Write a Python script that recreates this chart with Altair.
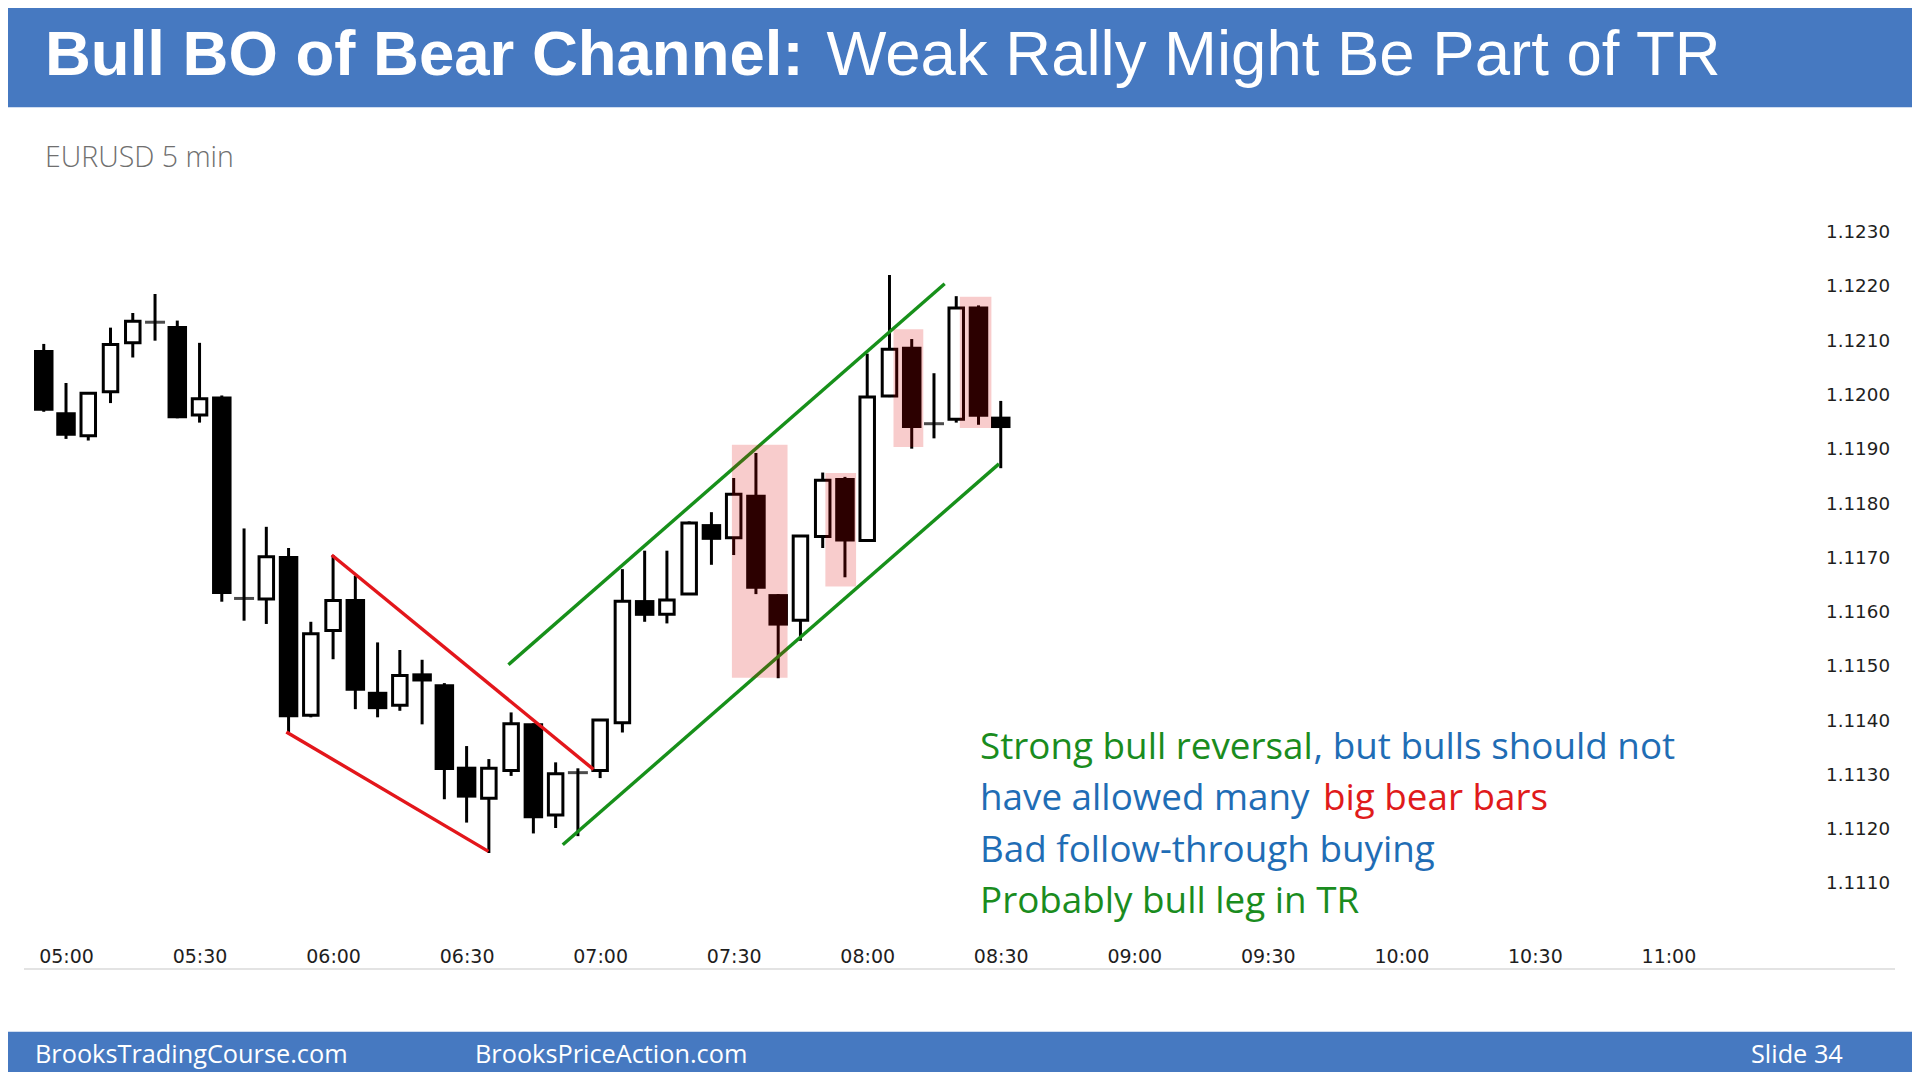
import altair as alt
import pandas as pd

# ---------------- data ----------------
TIMES = ["04:55", "05:00", "05:05", "05:10", "05:15", "05:20", "05:25", "05:30", "05:35", "05:40",
         "05:45", "05:50", "05:55", "06:00", "06:05", "06:10", "06:15", "06:20", "06:25", "06:30",
         "06:35", "06:40", "06:45", "06:50", "06:55", "07:00", "07:05", "07:10", "07:15", "07:20",
         "07:25", "07:30", "07:35", "07:40", "07:45", "07:50", "07:55", "08:00", "08:05", "08:10",
         "08:15", "08:20", "08:25", "08:30"]
OPEN = [1.12084, 1.11969, 1.11926, 1.12007, 1.12097, 1.12135, 1.12128, 1.11964, 1.11998, 1.11626,
        1.11625, 1.11704, 1.11411, 1.11567, 1.11625, 1.11454, 1.11429, 1.11488, 1.11468, 1.11316,
        1.11258, 1.11309, 1.11396, 1.11227, 1.11305, 1.11309, 1.11397, 1.11623, 1.11597, 1.11634,
        1.11763, 1.11738, 1.11817, 1.11634, 1.11586, 1.11740, 1.11848, 1.11733, 1.11999, 1.12090,
        1.11948, 1.11956, 1.12164, 1.11961]
HIGH = [1.12095, 1.12023, 1.12004, 1.12125, 1.12152, 1.12187, 1.12138, 1.12097, 1.12000, 1.11755,
        1.11758, 1.11719, 1.11583, 1.11706, 1.11668, 1.11545, 1.11531, 1.11513, 1.11470, 1.11354,
        1.11330, 1.11416, 1.11396, 1.11324, 1.11313, 1.11402, 1.11680, 1.11714, 1.11714, 1.11768,
        1.11785, 1.11848, 1.11894, 1.11634, 1.11741, 1.11858, 1.11850, 1.12077, 1.12222, 1.12104,
        1.12041, 1.12183, 1.12166, 1.11990]
LOW = [1.11970, 1.11920, 1.11917, 1.11986, 1.12070, 1.12101, 1.11958, 1.11950, 1.11620, 1.11585,
       1.11579, 1.11380, 1.11407, 1.11514, 1.11422, 1.11407, 1.11419, 1.11394, 1.11256, 1.11213,
       1.11157, 1.11299, 1.11193, 1.11203, 1.11188, 1.11295, 1.11379, 1.11583, 1.11580, 1.11634,
       1.11688, 1.11706, 1.11634, 1.11479, 1.11548, 1.11719, 1.11665, 1.11733, 1.11997, 1.11902,
       1.11921, 1.11950, 1.11946, 1.11866]
CLOSE = [1.11972, 1.11926, 1.12004, 1.12094, 1.12137, 1.12135, 1.11958, 1.11994, 1.11634, 1.11626,
         1.11703, 1.11407, 1.11561, 1.11622, 1.11456, 1.11422, 1.11484, 1.11473, 1.11310, 1.11259,
         1.11313, 1.11395, 1.11221, 1.11303, 1.11305, 1.11402, 1.11621, 1.11594, 1.11623, 1.11765,
         1.11734, 1.11818, 1.11644, 1.11576, 1.11741, 1.11844, 1.11731, 1.11997, 1.12085, 1.11940,
         1.11948, 1.12161, 1.11961, 1.11940]

# highlighted (pink) zones: start time, end time (minutes of day), top, bottom price
ZONE_T1 = [449.6, 470.6, 485.9, 500.8]
ZONE_T2 = [462.1, 477.5, 492.6, 507.9]
ZONE_P1 = [1.11909, 1.11857, 1.12122, 1.12182]
ZONE_P2 = [1.11480, 1.11648, 1.11905, 1.11940]

# trend lines: (t1, p1) -> (t2, p2)
LINE_T1 = [359.7, 349.5, 399.4, 411.6]
LINE_P1 = [1.11706, 1.11380, 1.11504, 1.11172]
LINE_T2 = [418.5, 394.9, 497.4, 509.6]
LINE_P2 = [1.11311, 1.11160, 1.12206, 1.11874]
LINE_COLOR = ["#e3161b", "#e3161b", "#17901a", "#17901a"]

X_TICKS = ["05:00", "05:30", "06:00", "06:30", "07:00", "07:30", "08:00", "08:30",
           "09:00", "09:30", "10:00", "10:30", "11:00"]
Y_TICKS = [1.1110, 1.1120, 1.1130, 1.1140, 1.1150, 1.1160, 1.1170, 1.1180,
           1.1190, 1.1200, 1.1210, 1.1220, 1.1230]


def to_min(s):
    h, m = s.split(":")
    return int(h) * 60 + int(m)


df = pd.DataFrame({"t": [to_min(s) for s in TIMES], "open": OPEN, "high": HIGH,
                   "low": LOW, "close": CLOSE})
bear = df[df["close"] < df["open"]]
bull = df[df["close"] > df["open"]]
doji = df[df["close"] == df["open"]]
zones = pd.DataFrame({"t1": ZONE_T1, "t2": ZONE_T2, "p1": ZONE_P1, "p2": ZONE_P2})
lines = pd.DataFrame({"t1": LINE_T1, "p1": LINE_P1, "t2": LINE_T2, "p2": LINE_P2, "c": LINE_COLOR})

# ---------------- layout ----------------
PAD_L, PAD_T = 17.4, 170.4
W, H = 1772.65, 759.78
TOTAL_W, TOTAL_H = 1904, 1064
PAD_R = TOTAL_W - PAD_L - W
PAD_B = TOTAL_H - PAD_T - H


def sx(x):  # screen x -> plot-relative pixel
    return x - 8 - PAD_L


def sy(y):
    return y - 8 - PAD_T


xs = alt.Scale(domain=[292, 688], nice=False, zero=False)
ys = alt.Scale(domain=[1.1100, 1.1240], nice=False, zero=False)
xaxis = alt.Axis(values=[to_min(s) for s in X_TICKS],
                 labelExpr="utcFormat(datum.value * 60000, '%H:%M')",
                 domain=False, ticks=False, tickSize=0, grid=False, labelPadding=9.5,
                 labelFont="DejaVu Sans", labelFontSize=19, labelColor="#1e1e1e",
                 labelFlush=False, labelOverlap=False, title="")
yaxis = alt.Axis(values=Y_TICKS, format=".4f", orient="right", domain=False, ticks=False,
                 tickSize=0, grid=False, labelPadding=27.5, labelFont="DejaVu Sans",
                 labelFontSize=18.3, labelColor="#1e1e1e", labelOverlap=False, title="")


def X(f):
    return alt.X(f, type="quantitative", scale=xs, axis=xaxis, title="")


def Y(f):
    return alt.Y(f, type="quantitative", scale=ys, axis=yaxis, title="")


wicks = alt.Chart(df).mark_rule(color="black", strokeWidth=3).encode(
    x=X("t"), y=Y("low"), y2="high")
bear_bodies = alt.Chart(bear).mark_bar(color="black", size=19.5).encode(
    x=X("t"), y=Y("open"), y2="close")
bull_bodies = alt.Chart(bull).mark_bar(fill="white", stroke="black", strokeWidth=3, size=14.5).encode(
    x=X("t"), y=Y("open"), y2="close")
doji_ticks = alt.Chart(doji).mark_tick(color="black", orient="horizontal", size=20, thickness=3).encode(
    x=X("t"), y=Y("open"))
trend = alt.Chart(lines).mark_rule(strokeWidth=3.4).encode(
    x=X("t1"), y=Y("p1"), x2="t2", y2="p2", color=alt.Color("c:N", scale=None))
pink = alt.Chart(zones).mark_rect(color="#dd0000", opacity=0.2).encode(
    x=X("t1"), x2="t2", y=Y("p1"), y2="p2")

ONE = pd.DataFrame({"k": [0]})


def box(x1, x2, y1, y2, color):
    return alt.Chart(ONE).mark_rect(color=color).encode(
        x=alt.value(sx(x1)), x2=alt.value(sx(x2)), y=alt.value(sy(y1)), y2=alt.value(sy(y2)))


def txt(s, x, y, color, size, font, weight="normal"):
    return alt.Chart(ONE).mark_text(text=s, align="left", baseline="alphabetic", font=font,
                                    fontSize=size, fontWeight=weight, color=color).encode(
        x=alt.value(sx(x)), y=alt.value(sy(y)))


BLUE_BAND = "#4679c1"
GREEN_T = "#1a8c1e"
BLUE_T = "#1f6db5"
RED_T = "#e01b1b"
ANN = "Open Sans"
ANN_SIZE = 36.8

deco = [
    box(0, 1920, 0, 107.3, BLUE_BAND),
    box(0, 1920, 1031.7, 1080, BLUE_BAND),
    alt.Chart(ONE).mark_rule(color="#e3e3e3", strokeWidth=2).encode(
        x=alt.value(sx(24)), x2=alt.value(sx(1895)), y=alt.value(sy(969))),
    txt("Bull BO of Bear Channel:", 45, 75, "white", 63.5, "Liberation Sans", "bold"),
    txt("Weak Rally Might Be Part of TR", 826.5, 75, "white", 63.5, "Liberation Sans"),
    txt("EURUSD 5 min", 45, 166.5, "#6f6f6f", 28.5, ANN, 300),
    txt("Strong bull reversal", 980, 758.5, GREEN_T, ANN_SIZE, ANN),
    txt(", but bulls should not", 1313.6, 758.5, BLUE_T, ANN_SIZE, ANN),
    txt("have allowed many", 980, 810, BLUE_T, ANN_SIZE, ANN),
    txt("big bear bars", 1323, 810, RED_T, ANN_SIZE, ANN),
    txt("Bad follow-through buying", 980, 861.5, BLUE_T, ANN_SIZE, ANN),
    txt("Probably bull leg in TR", 980, 913, GREEN_T, ANN_SIZE, ANN),
    txt("BrooksTradingCourse.com", 35, 1063, "white", 25.3, ANN),
    txt("BrooksPriceAction.com", 475, 1063, "white", 25.3, ANN),
    txt("Slide  34", 1751, 1063, "white", 25.3, ANN),
]

chart = alt.layer(
    wicks, bear_bodies, bull_bodies, doji_ticks, trend, pink, *deco
).properties(
    width=W, height=H,
    padding={"left": PAD_L, "top": PAD_T, "right": PAD_R, "bottom": PAD_B},
    autosize=alt.AutoSizeParams(type="none"),
).configure_view(strokeWidth=0)

chart.save("out.html", embed_options={"renderer": "svg", "actions": False})
